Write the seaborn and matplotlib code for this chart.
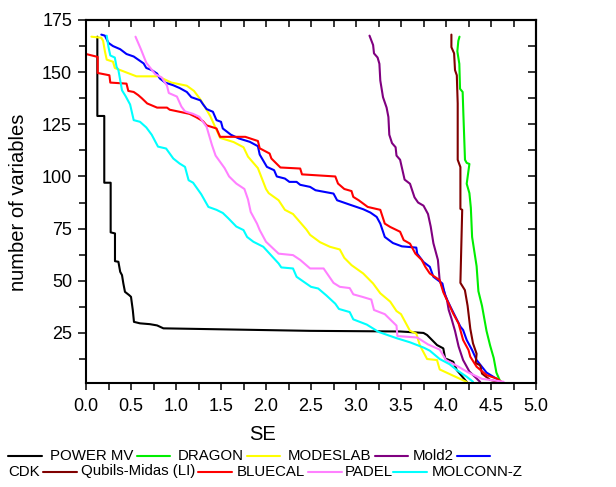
import matplotlib
matplotlib.use('Agg')
import matplotlib.pyplot as plt
import seaborn as sns
import pandas as pd
from matplotlib.lines import Line2D
from matplotlib.ticker import MultipleLocator, FormatStrFormatter

# values (SE vs number of variables)
pmv_se = [0.126, 0.126, 0.203, 0.203, 0.274, 0.274, 0.322, 0.322, 0.36, 0.37,
          0.38, 0.40, 0.415, 0.433, 0.48, 0.50, 0.52, 0.533, 0.60, 0.71,
          0.79, 0.86, 2.49, 3.49, 3.75, 3.79, 3.90, 3.97, 3.99, 4.08, 4.12, 4.23]
pmv_n = [167, 129, 129, 97, 97, 73.2, 72.7, 59.4, 59.1, 56.7,
         54.3, 52.7, 48.7, 44.7, 43.1, 42.3, 35.9, 30.3, 29.6, 29.2,
         28.6, 27.2, 26, 25.7, 25, 24, 19.2, 17.6, 12.8, 11.2, 7.2, 1.5]

dragon_se = [4.15, 4.137, 4.126, 4.148, 4.156, 4.185, 4.193, 4.211, 4.23, 4.26,
             4.23, 4.26, 4.276, 4.285, 4.29, 4.34, 4.36, 4.40, 4.45, 4.49,
             4.53, 4.56, 4.60, 4.62]
dragon_n = [167, 165, 160, 154, 142, 140.5, 130, 108, 106.5, 106,
            96.5, 92, 85, 76, 71, 57, 45, 38, 26, 19,
            13, 6, 2, 1]

modeslab_se = [0.06, 0.17, 0.19, 0.21, 0.23, 0.30, 0.32, 0.38, 0.47, 0.56,
               0.80, 0.95, 1.12, 1.20, 1.27, 1.38, 1.49, 1.64, 1.75, 1.80,
               1.91, 2.0, 2.03, 2.14, 2.21, 2.30, 2.45, 2.49, 2.6, 2.71,
               2.82, 2.87, 2.95, 3.08, 3.19, 3.27, 3.38, 3.45, 3.5, 3.6,
               3.67, 3.71, 3.79, 3.90, 3.93, 4.08, 4.23]
modeslab_n = [167, 166.5, 165, 160, 156, 155, 152, 151, 149.5, 148,
              148, 145, 143.5, 141, 137, 129, 118.5, 116.5, 114, 109.5,
              104, 94, 92, 88.6, 84, 82, 74.5, 72, 68.5, 66.3,
              65, 61, 57.5, 53.5, 48.7, 44, 40, 35.5, 34, 26,
              24.7, 19, 12.5, 12, 7.5, 4.5, 1.5]

mold2_se = [3.15, 3.19, 3.20, 3.24, 3.26, 3.27, 3.30, 3.34, 3.36, 3.37,
            3.40, 3.44, 3.45, 3.49, 3.54, 3.60, 3.65, 3.69, 3.75, 3.80,
            3.83, 3.86, 3.91, 3.93, 3.97, 4.01, 4.03, 4.06, 4.10, 4.14,
            4.19, 4.26, 4.38]
mold2_n = [167.5, 163, 159, 157, 154, 146, 138, 133, 128.5, 120,
           116, 114, 110, 108, 98.5, 96.5, 90, 87.5, 86, 82,
           76, 68, 60, 50, 46, 41, 36, 32, 26, 18.5,
           12, 6.5, 1.5]

cdk_se = [0.17, 0.21, 0.25, 0.30, 0.38, 0.45, 0.53, 0.58, 0.64, 0.67,
          0.73, 0.79, 0.82, 0.88, 0.97, 1.04, 1.12, 1.17, 1.27, 1.30,
          1.34, 1.41, 1.45, 1.50, 1.52, 1.61, 1.70, 1.82, 1.91, 1.93,
          2.01, 2.09, 2.12, 2.21, 2.26, 2.34, 2.38, 2.49, 2.55, 2.75,
          2.79, 2.93, 3.08, 3.16, 3.23, 3.27, 3.32, 3.41, 3.51, 3.67,
          3.68, 3.75, 3.82, 3.86, 3.96, 3.99, 4.05, 4.16, 4.19, 4.23,
          4.29, 4.34, 4.45, 4.57]
cdk_n = [168, 167.5, 164, 162.5, 161, 158.7, 157.5, 156, 154.2, 152,
         151, 149.3, 147, 145, 143.7, 142.4, 140.5, 138, 136.5, 134.6,
         132.3, 131, 127, 126.2, 123, 120, 118.2, 116.6, 114.5, 110.5,
         104.6, 103, 100, 99, 97.4, 97.4, 96, 95, 93.4, 91.8,
         88.6, 86.5, 84.3, 82.7, 80.6, 77.4, 71, 68.1, 66.5, 65.9,
         63, 59, 56.7, 51.9, 48.7, 43, 37.5, 28, 26.4, 21.6,
         16.8, 12, 6, 2.8]

qubils_se = [4.06, 4.06, 4.09, 4.10, 4.12, 4.13, 4.13, 4.16, 4.16, 4.18,
             4.16, 4.21, 4.24, 4.27, 4.30, 4.34, 4.33, 4.38, 4.40, 4.49,
             4.58]
qubils_n = [168, 162, 159, 151, 148.5, 135, 108, 104.5, 84.5, 84,
            49, 45.5, 38, 27, 20, 15, 10.5, 9.5, 5.5, 2.5,
            1.5]

bluecal_se = [0.0, 0.13, 0.13, 0.26, 0.27, 0.45, 0.47, 0.53, 0.58, 0.62,
              0.68, 0.79, 0.90, 0.93, 1.04, 1.15, 1.22, 1.30, 1.34, 1.45,
              1.49, 1.77, 1.91, 1.93, 2.04, 2.06, 2.16, 2.38, 2.40, 2.77,
              2.80, 2.87, 2.95, 2.97, 3.03, 3.13, 3.27, 3.32, 3.38, 3.49,
              3.53, 3.60, 3.66, 3.73, 3.77, 3.82, 3.93, 3.97, 4.03, 4.08,
              4.14, 4.19, 4.25, 4.27, 4.34, 4.45, 4.56, 4.62]
bluecal_n = [158.7, 157.3, 149.6, 148.5, 145, 144.5, 141, 140.5, 139, 137.5,
             135, 133, 133, 132, 131, 130, 128.5, 126.5, 124.5, 123,
             119, 119, 117, 113.5, 111, 108.6, 104.3, 103.8, 101, 100,
             96.6, 94, 93, 90.2, 88.6, 85.4, 84, 77.4, 75.8, 73.5,
             69.5, 67.8, 63, 60, 56.7, 53.5, 50.3, 44.5, 39, 34.3,
             29.5, 21.6, 16.8, 13.6, 8.8, 4.8, 3.2, 1.5]

padel_se = [0.55, 0.61, 0.67, 0.77, 0.84, 0.90, 0.92, 1.01, 1.06, 1.10,
            1.19, 1.26, 1.34, 1.40, 1.44, 1.49, 1.54, 1.59, 1.67, 1.76,
            1.80, 1.83, 1.90, 1.93, 2.0, 2.14, 2.30, 2.38, 2.49, 2.64,
            2.75, 2.82, 2.93, 2.97, 3.07, 3.17, 3.20, 3.32, 3.45, 3.46,
            3.68, 3.80, 3.93, 4.0, 4.13, 4.25, 4.40, 4.64]
padel_n = [167, 161, 154.5, 149, 147.5, 143.5, 140, 138.3, 133.5, 131.2,
           130, 128.6, 123.8, 115, 110, 107, 104, 100, 96.6, 94,
           89, 83, 77.4, 74.3, 68.7, 63, 62.3, 60, 55.9, 55.9,
           49, 47.1, 46.5, 43.5, 42.3, 41, 36, 34, 28.5, 23.5,
           22.8, 19.5, 17, 12, 9, 6, 3, 1.6]

molconn_se = [0.23, 0.25, 0.27, 0.32, 0.34, 0.36, 0.40, 0.44, 0.49, 0.53,
              0.60, 0.67, 0.73, 0.80, 0.89, 0.97, 1.04, 1.10, 1.14, 1.19,
              1.28, 1.36, 1.45, 1.52, 1.58, 1.67, 1.75, 1.79, 1.86, 1.97,
              2.04, 2.14, 2.17, 2.30, 2.34, 2.50, 2.58, 2.67, 2.77, 2.81,
              2.93, 2.97, 3.12, 3.25, 3.45, 3.60, 3.75, 3.82, 3.93, 4.04,
              4.12, 4.23, 4.30]
molconn_n = [167.5, 162, 158, 157, 152.5, 151, 141.3, 138.5, 134.5, 127,
             126.2, 123.5, 120, 114.3, 113.4, 108.6, 106.2, 104.6, 98.2, 97,
             91.5, 85.4, 84, 82.5, 80, 76, 74.3, 71, 68.7, 66.3,
             63, 58.3, 56.4, 55.9, 51.9, 47.1, 46.3, 43, 39, 36.5,
             35, 31.5, 29, 25.5, 22.5, 20.5, 18, 16.5, 12.5, 10,
             7.2, 4, 1.6]

names = ['POWER MV', 'DRAGON', 'MODESLAB', 'Mold2', 'CDK',
         'Qubils-Midas (LI)', 'BLUECAL', 'PADEL', 'MOLCONN-Z']
colors = ['#000000', '#00ee00', '#ffff00', '#800080', '#0000ff',
          '#800000', '#ff0000', '#ff80ff', '#00ffff']
series = [(pmv_se, pmv_n), (dragon_se, dragon_n), (modeslab_se, modeslab_n),
          (mold2_se, mold2_n), (cdk_se, cdk_n), (qubils_se, qubils_n),
          (bluecal_se, bluecal_n), (padel_se, padel_n), (molconn_se, molconn_n)]

frames = []
for name, (x, y) in zip(names, series):
    frames.append(pd.DataFrame({'SE': x, 'n': y, 'method': name}))
df = pd.concat(frames, ignore_index=True)

sns.set_style('ticks')
plt.rcParams['font.family'] = ['Liberation Sans', 'DejaVu Sans']
plt.rcParams['text.color'] = 'black'

W, H = 616, 487
fig = plt.figure(figsize=(W / 100, H / 100), dpi=100)
ax = fig.add_axes([86 / W, 1 - 383 / H, 450 / W, 363 / H])

sns.lineplot(data=df, x='SE', y='n', hue='method', hue_order=names,
             palette=dict(zip(names, colors)), sort=False, estimator=None,
             legend=False, lw=1.5, ax=ax)

ax.set_xlim(0, 5)
ax.set_ylim(1, 175)
ax.xaxis.set_major_locator(MultipleLocator(0.5))
ax.xaxis.set_minor_locator(MultipleLocator(0.25))
ax.xaxis.set_major_formatter(FormatStrFormatter('%.1f'))
ax.yaxis.set_major_locator(MultipleLocator(25))
ax.yaxis.set_minor_locator(MultipleLocator(12.5))
ax.set_xlabel('')
ax.set_ylabel('')
for sp in ax.spines.values():
    sp.set_linewidth(1.5)
    sp.set_color('black')
ax.tick_params(which='both', direction='out', width=1.1, color='black',
               labelsize=13, labelcolor='black')
ax.tick_params(axis='y', which='major', length=6, pad=4)
ax.tick_params(axis='y', which='minor', length=5)
ax.tick_params(axis='x', which='both', length=5, pad=6)

# inward ticks on top and right
top = ax.secondary_xaxis('top')
top.xaxis.set_major_locator(MultipleLocator(0.5))
top.xaxis.set_minor_locator(MultipleLocator(0.25))
top.tick_params(which='both', direction='in', length=5, width=1.1,
                color='black', labeltop=False)
right = ax.secondary_yaxis('right')
right.yaxis.set_major_locator(MultipleLocator(25))
right.yaxis.set_minor_locator(MultipleLocator(12.5))
right.tick_params(which='both', direction='in', length=6, width=1.1,
                  color='black', labelright=False)
for s in (top, right):
    for sp in s.spines.values():
        sp.set_linewidth(1.5)
        sp.set_color('black')

fig.text(263 / W, 1 - 435 / H, 'SE', ha='center', va='center', fontsize=14.5)
fig.text(19 / W, 1 - 202 / H, 'number of variables', rotation=90,
         ha='center', va='center', fontsize=14.5)

# legend laid out in two wrapped rows like the reference
leg_rows = [456, 471.5]
leg_lines = [(0, 8, 42), (0, 137, 170), (0, 247, 280), (0, 375, 408), (0, 457, 490),
             (1, 43, 77), (1, 198, 232), (1, 308, 342), (1, 393, 427)]
leg_texts = [(0, 50), (0, 178), (0, 288), (0, 413), (1, 8),
             (1, 81), (1, 237), (1, 345), (1, 432)]
for (r, x0, x1), c in zip(leg_lines, colors):
    yy = 1 - leg_rows[r] / H
    fig.add_artist(Line2D([x0 / W, x1 / W], [yy, yy], color=c, lw=1.5,
                          transform=fig.transFigure))
for (r, x0), name in zip(leg_texts, names):
    fig.text(x0 / W, 1 - leg_rows[r] / H, name, ha='left', va='center',
             fontsize=10.8)

fig.savefig('out.png', dpi=100)
